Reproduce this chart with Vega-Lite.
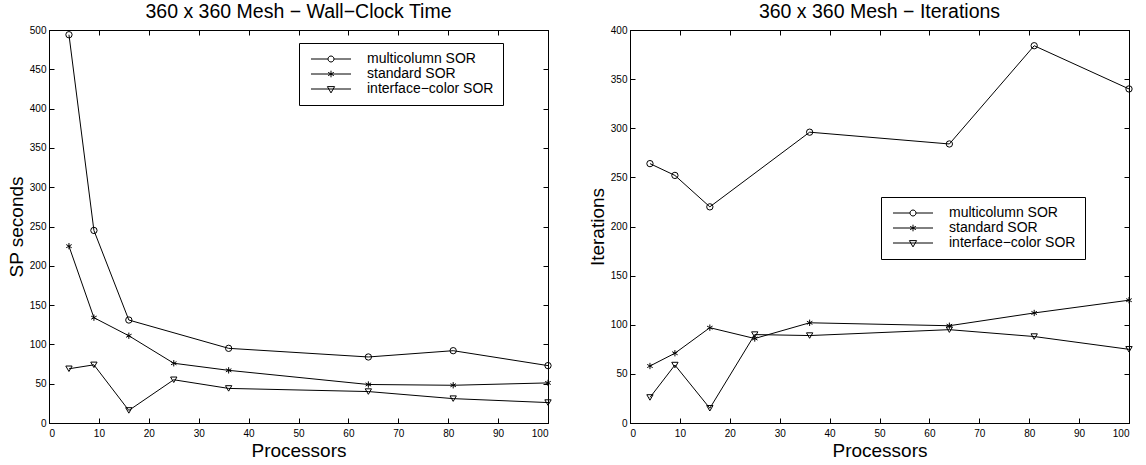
{
  "$schema": "https://vega.github.io/schema/vega-lite/v6.json",
  "padding": {"left": 6, "top": 1, "right": 2, "bottom": 0},
  "background": "white",
  "config": {
    "font": "Liberation Sans",
    "view": {"stroke": "black", "strokeWidth": 1},
    "axis": {
      "grid": false,
      "domainColor": "black",
      "tickColor": "black",
      "labelColor": "black",
      "titleColor": "black",
      "labelFontSize": 10,
      "labelFont": "Liberation Sans",
      "titleFont": "Liberation Sans",
      "titleFontSize": 19,
      "titleFontWeight": "normal",
      "tickSize": -5
    },
    "axisX": {"labelPadding": 10, "titlePadding": 3},
    "axisY": {"labelPadding": 8, "titlePadding": 3},
    "title": {"fontSize": 19.5, "fontWeight": "normal", "font": "Liberation Sans", "color": "black", "offset": 3, "anchor": "middle"},
    "legend": {
      "orient": "none",
      "strokeColor": "black",
      "strokeWidth": 1,
      "fillColor": "white",
      "padding": 9,
      "labelFontSize": 14,
      "labelFont": "Liberation Sans",
      "labelColor": "black",
      "symbolSize": 36,
      "symbolStrokeColor": "black",
      "symbolFillColor": "transparent",
      "symbolStrokeWidth": 1,
      "rowPadding": 1,
      "symbolOffset": 16,
      "labelOffset": 29
    }
  },
  "datasets": {
    "time": [
      {"processors": 4, "method": "multicolumn SOR", "value": 494},
      {"processors": 9, "method": "multicolumn SOR", "value": 245},
      {"processors": 16, "method": "multicolumn SOR", "value": 131},
      {"processors": 36, "method": "multicolumn SOR", "value": 95},
      {"processors": 64, "method": "multicolumn SOR", "value": 84},
      {"processors": 81, "method": "multicolumn SOR", "value": 92},
      {"processors": 100, "method": "multicolumn SOR", "value": 73},
      {"processors": 4, "method": "standard SOR", "value": 225},
      {"processors": 9, "method": "standard SOR", "value": 134},
      {"processors": 16, "method": "standard SOR", "value": 111},
      {"processors": 25, "method": "standard SOR", "value": 76},
      {"processors": 36, "method": "standard SOR", "value": 67},
      {"processors": 64, "method": "standard SOR", "value": 49},
      {"processors": 81, "method": "standard SOR", "value": 48},
      {"processors": 100, "method": "standard SOR", "value": 51},
      {"processors": 4, "method": "interface−color SOR", "value": 69},
      {"processors": 9, "method": "interface−color SOR", "value": 74},
      {"processors": 16, "method": "interface−color SOR", "value": 16},
      {"processors": 25, "method": "interface−color SOR", "value": 55},
      {"processors": 36, "method": "interface−color SOR", "value": 44},
      {"processors": 64, "method": "interface−color SOR", "value": 40},
      {"processors": 81, "method": "interface−color SOR", "value": 31},
      {"processors": 100, "method": "interface−color SOR", "value": 26}
    ],
    "iter": [
      {"processors": 4, "method": "multicolumn SOR", "value": 264},
      {"processors": 9, "method": "multicolumn SOR", "value": 252},
      {"processors": 16, "method": "multicolumn SOR", "value": 220},
      {"processors": 36, "method": "multicolumn SOR", "value": 296},
      {"processors": 64, "method": "multicolumn SOR", "value": 284},
      {"processors": 81, "method": "multicolumn SOR", "value": 384},
      {"processors": 100, "method": "multicolumn SOR", "value": 340},
      {"processors": 4, "method": "standard SOR", "value": 58},
      {"processors": 9, "method": "standard SOR", "value": 71},
      {"processors": 16, "method": "standard SOR", "value": 97},
      {"processors": 25, "method": "standard SOR", "value": 86},
      {"processors": 36, "method": "standard SOR", "value": 102},
      {"processors": 64, "method": "standard SOR", "value": 99},
      {"processors": 81, "method": "standard SOR", "value": 112},
      {"processors": 100, "method": "standard SOR", "value": 125},
      {"processors": 4, "method": "interface−color SOR", "value": 26},
      {"processors": 9, "method": "interface−color SOR", "value": 59},
      {"processors": 16, "method": "interface−color SOR", "value": 15},
      {"processors": 25, "method": "interface−color SOR", "value": 90},
      {"processors": 36, "method": "interface−color SOR", "value": 89},
      {"processors": 64, "method": "interface−color SOR", "value": 95},
      {"processors": 81, "method": "interface−color SOR", "value": 88},
      {"processors": 100, "method": "interface−color SOR", "value": 75}
    ]
  },
  "hconcat": [
    {
      "title": "360 x 360 Mesh − Wall−Clock Time",
      "width": 499,
      "height": 393,
      "data": {"name": "time"},
      "layer": [
        {
          "mark": {"type": "line", "color": "black", "strokeWidth": 1},
          "encoding": {
            "x": {"field": "processors", "type": "quantitative", "scale": {"domain": [0, 100], "nice": false}, "axis": {"orient": "bottom", "values": [0,10,20,30,40,50,60,70,80,90,100], "title": "Processors"}},
            "y": {"field": "value", "type": "quantitative", "scale": {"domain": [0, 500], "nice": false}, "axis": {"orient": "left", "values": [0,50,100,150,200,250,300,350,400,450,500], "title": "SP seconds"}},
            "detail": {"field": "method"}
          }
        },
        {
          "mark": {"type": "point", "filled": false, "color": "black", "size": 40, "strokeWidth": 1, "opacity": 1},
          "encoding": {
            "x": {"field": "processors", "type": "quantitative", "axis": {"orient": "top", "values": [0,10,20,30,40,50,60,70,80,90,100], "labels": false, "title": null}},
            "y": {"field": "value", "type": "quantitative", "axis": {"orient": "right", "values": [0,50,100,150,200,250,300,350,400,450,500], "labels": false, "title": null}},
            "shape": {
              "field": "method", "type": "nominal",
              "scale": {"domain": ["multicolumn SOR", "standard SOR", "interface−color SOR"], "range": ["circle", "M0,-1L0,1M-0.87,-0.5L0.87,0.5M-0.87,0.5L0.87,-0.5", "triangle-down"]},
              "legend": null
            }
          }
        },
        {
          "transform": [{"filter": "false"}],
          "mark": {"type": "point", "filled": false, "color": "black", "strokeWidth": 1, "opacity": 1},
          "encoding": {
            "shape": {
              "field": "method", "type": "nominal",
              "scale": {"domain": ["multicolumn SOR", "standard SOR", "interface−color SOR"], "range": ["M-6.67,0L-1,0M1,0L6.67,0M1,0A1,1 0 1,1 -1,0A1,1 0 1,1 1,0", "M-6.67,0L6.67,0M0,-1.1L0,1.1M-0.95,-0.55L0.95,0.55M-0.95,0.55L0.95,-0.55", "M-6.67,0L6.67,0M-1.2,-0.8L1.2,-0.8L0,1.3Z"]},
              "legend": {"title": null, "legendX": 250, "legendY": 13}
            }
          }
        }
      ],
      "resolve": {"axis": {"x": "independent", "y": "independent"}, "scale": {"shape": "independent"}}
    },
    {
      "title": "360 x 360 Mesh − Iterations",
      "width": 499,
      "height": 393,
      "data": {"name": "iter"},
      "layer": [
        {
          "mark": {"type": "line", "color": "black", "strokeWidth": 1},
          "encoding": {
            "x": {"field": "processors", "type": "quantitative", "scale": {"domain": [0, 100], "nice": false}, "axis": {"orient": "bottom", "values": [0,10,20,30,40,50,60,70,80,90,100], "title": "Processors"}},
            "y": {"field": "value", "type": "quantitative", "scale": {"domain": [0, 400], "nice": false}, "axis": {"orient": "left", "values": [0,50,100,150,200,250,300,350,400], "title": "Iterations"}},
            "detail": {"field": "method"}
          }
        },
        {
          "mark": {"type": "point", "filled": false, "color": "black", "size": 40, "strokeWidth": 1, "opacity": 1},
          "encoding": {
            "x": {"field": "processors", "type": "quantitative", "axis": {"orient": "top", "values": [0,10,20,30,40,50,60,70,80,90,100], "labels": false, "title": null}},
            "y": {"field": "value", "type": "quantitative", "axis": {"orient": "right", "values": [0,50,100,150,200,250,300,350,400], "labels": false, "title": null}},
            "shape": {
              "field": "method", "type": "nominal",
              "scale": {"domain": ["multicolumn SOR", "standard SOR", "interface−color SOR"], "range": ["circle", "M0,-1L0,1M-0.87,-0.5L0.87,0.5M-0.87,0.5L0.87,-0.5", "triangle-down"]},
              "legend": null
            }
          }
        },
        {
          "transform": [{"filter": "false"}],
          "mark": {"type": "point", "filled": false, "color": "black", "strokeWidth": 1, "opacity": 1},
          "encoding": {
            "shape": {
              "field": "method", "type": "nominal",
              "scale": {"domain": ["multicolumn SOR", "standard SOR", "interface−color SOR"], "range": ["M-6.67,0L-1,0M1,0L6.67,0M1,0A1,1 0 1,1 -1,0A1,1 0 1,1 1,0", "M-6.67,0L6.67,0M0,-1.1L0,1.1M-0.95,-0.55L0.95,0.55M-0.95,0.55L0.95,-0.55", "M-6.67,0L6.67,0M-1.2,-0.8L1.2,-0.8L0,1.3Z"]},
              "legend": {"title": null, "legendX": 251, "legendY": 167}
            }
          }
        }
      ],
      "resolve": {"axis": {"x": "independent", "y": "independent"}, "scale": {"shape": "independent"}}
    }
  ],
  "spacing": 33,
  "resolve": {"scale": {"shape": "independent"}, "legend": {"shape": "independent"}}
}
